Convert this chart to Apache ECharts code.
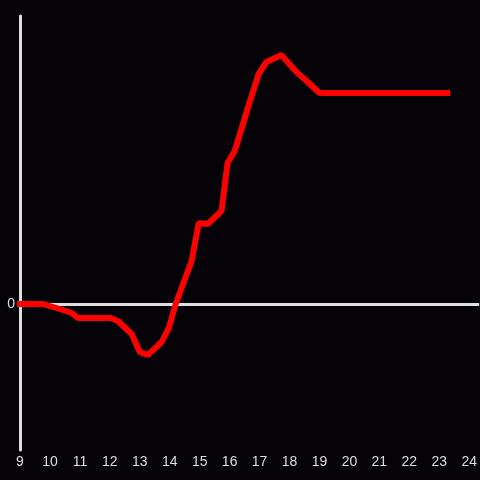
<!DOCTYPE html>
<html>
<head>
<meta charset="utf-8">
<script src="https://cdn.jsdelivr.net/npm/echarts@6/dist/echarts.min.js"></script>
<style>
  html, body { margin: 0; padding: 0; background: #050307; }
  #chart { width: 480px; height: 480px; }
</style>
</head>
<body>
<div id="chart"></div>
<script>
// 时间（小时）
const hours = [9.0, 9.77, 10.33, 10.73, 10.93, 12.03, 12.27, 12.73, 13.0, 13.27, 13.73, 13.97, 14.2,
  14.73, 14.97, 15.27, 15.73, 15.93, 16.17, 16.67, 16.97, 17.23, 17.73, 18.23, 18.5, 19.0, 23.27];
// 数值
const values = [0, 0, -0.5, -0.9, -1.4, -1.4, -1.7, -3.0, -4.8, -5.1, -3.8, -2.4, 0,
  4.3, 8.1, 8.0, 9.3, 14.1, 15.3, 20.2, 23.0, 24.2, 24.9, 23.2, 22.5, 21.1, 21.1];
// 刻度
const xTicks = [9, 10, 11, 12, 13, 14, 15, 16, 17, 18, 19, 20, 21, 22, 23, 24];
const yTicks = [0];

const chart = echarts.init(document.getElementById('chart'));
const axisColor = '#dedede';

chart.setOption({
  backgroundColor: '#050307',
  animation: false,
  grid: {
    left: 20,
    right: 0,
    top: 16,
    bottom: 30
  },
  xAxis: {
    type: 'value',
    min: 9,
    max: 24.333,
    axisLine: { show: false },
    axisTick: { show: false },
    splitLine: { show: false },
    axisLabel: {
      customValues: xTicks,
      color: axisColor,
      fontSize: 14,
      margin: 5
    }
  },
  yAxis: {
    type: 'value',
    min: -14.6,
    max: 28.8,
    axisLine: {
      show: true,
      lineStyle: { color: axisColor, width: 3 }
    },
    axisTick: { show: false },
    splitLine: { show: false },
    axisLabel: {
      customValues: yTicks,
      color: axisColor,
      fontSize: 14,
      margin: 5
    }
  },
  series: [
    {
      type: 'line',
      z: 3,
      clip: false,
      showSymbol: false,
      data: hours.map((h, i) => [h, values[i]]),
      lineStyle: { color: '#ff0000', width: 6, cap: 'square' },
      // 零线
      markLine: {
        z: 1,
        silent: true,
        symbol: 'none',
        label: { show: false },
        lineStyle: { color: axisColor, width: 3, type: 'solid' },
        data: [{ yAxis: 0 }]
      }
    }
  ]
});
</script>
</body>
</html>
